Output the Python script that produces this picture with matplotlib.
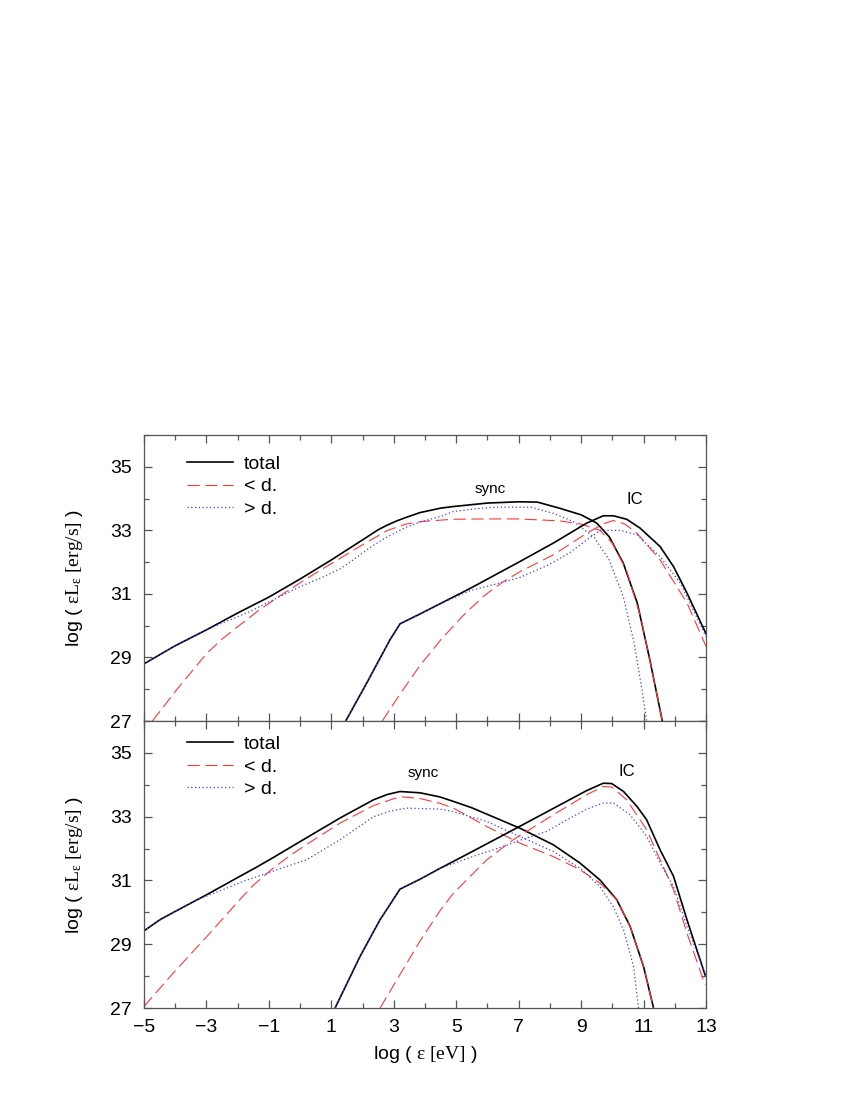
import numpy as np
import matplotlib
matplotlib.use('Agg')
import matplotlib.pyplot as plt
from matplotlib.ticker import MultipleLocator

plt.rcParams['font.family'] = ['Liberation Sans', 'DejaVu Sans']
plt.rcParams['mathtext.fontset'] = 'custom'
plt.rcParams['mathtext.rm'] = 'Liberation Serif'
plt.rcParams['mathtext.it'] = 'Liberation Serif:italic'

# ---- top panel ----
top_sync_tot_x = [-5, -4, -3, -2, -1, 0, 1, 1.3, 2, 2.5, 2.8, 3.1, 3.4, 3.84, 4.5, 4.9, 6.0, 7.0, 7.6, 8.3, 9.0, 9.5, 9.9, 10.35, 10.8, 11.2, 11.6]
top_sync_tot_y = [28.8, 29.37, 29.87, 30.4, 30.9, 31.47, 32.07, 32.26, 32.7, 33.02, 33.17, 33.3, 33.41, 33.56, 33.7, 33.75, 33.86, 33.9, 33.89, 33.7, 33.49, 33.23, 32.8, 31.97, 30.71, 28.93, 27.0]
top_sync_lo_x = [-4.73, -4, -3, -2.5, -2, -1.3, -0.6, 0, 0.6, 1.2, 2.0, 2.8, 3.4, 3.9, 4.9, 6, 7, 8.3, 9.0, 9.6, 10.0, 10.45, 10.9, 11.3, 11.6]
top_sync_lo_y = [27, 27.93, 29.12, 29.58, 29.97, 30.5, 30.97, 31.35, 31.72, 32.07, 32.55, 33.0, 33.2, 33.28, 33.35, 33.36, 33.36, 33.3, 33.2, 33.0, 32.6, 31.75, 30.3, 28.45, 27.0]
top_sync_hi_x = [-5, -4, -3.2, -2.5, -1.6, -1, 0, 0.7, 1.3, 1.7, 2.3, 2.8, 3.4, 3.9, 4.5, 4.9, 5.6, 6.3, 7.4, 8.1, 8.75, 9.4, 9.9, 10.35, 10.7, 10.95, 11.1]
top_sync_hi_y = [28.8, 29.37, 29.78, 30.08, 30.45, 30.75, 31.23, 31.52, 31.8, 32.07, 32.5, 32.8, 33.1, 33.28, 33.44, 33.59, 33.68, 33.73, 33.73, 33.54, 33.28, 32.8, 32.07, 30.92, 29.45, 27.98, 27.0]

top_ic_tot_x = [1.46, 2.13, 2.88, 3.2, 3.84, 4.48, 5.44, 7.04, 8.11, 9.18, 9.71, 10.03, 10.46, 10.89, 11.53, 11.96, 12.39, 13.0]
top_ic_tot_y = [27, 28.19, 29.56, 30.06, 30.37, 30.69, 31.17, 32.02, 32.6, 33.23, 33.46, 33.46, 33.35, 33.07, 32.49, 31.86, 31.03, 29.75]
top_ic_lo_x = [2.63, 3.2, 3.84, 4.5, 5.2, 5.9, 6.5, 7.04, 8.11, 9.18, 9.7, 10.03, 10.4, 10.79, 11.53, 12.39, 13.0]
top_ic_lo_y = [27, 27.85, 28.75, 29.55, 30.3, 30.95, 31.38, 31.7, 32.23, 32.91, 33.2, 33.31, 33.2, 32.91, 32.07, 30.72, 29.35]
top_ic_hi_x = [1.46, 2.13, 2.88, 3.2, 3.84, 4.48, 5.44, 6.3, 7.04, 7.95, 8.64, 9.18, 9.6, 10.25, 10.79, 11.53, 12.18, 13.0]
top_ic_hi_y = [27, 28.19, 29.56, 30.06, 30.37, 30.69, 31.1, 31.32, 31.52, 31.91, 32.3, 32.7, 33.0, 33.0, 32.86, 32.17, 31.34, 29.66]

# ---- bottom panel ----
bot_sync_tot_x = [-5, -4.49, -4, -3, -1.93, -1.39, -0.86, 0, 1.28, 2.35, 2.8, 3.2, 3.84, 4.48, 4.91, 5.5, 5.98, 7.04, 8.11, 8.96, 9.6, 10.14, 10.57, 11.0, 11.32]
bot_sync_tot_y = [29.42, 29.77, 30.03, 30.55, 31.13, 31.42, 31.72, 32.22, 32.96, 33.53, 33.7, 33.79, 33.75, 33.62, 33.48, 33.28, 33.08, 32.64, 32.12, 31.55, 31.02, 30.4, 29.56, 28.3, 27.0]
bot_sync_lo_x = [-5, -4.06, -2.99, -1.93, -1.5, -0.86, -0.3, 0.4, 1.28, 2.35, 3.2, 3.84, 4.48, 4.91, 5.98, 7.04, 8.11, 8.96, 9.6, 10.14, 10.57, 11.0, 11.32]
bot_sync_lo_y = [27.05, 28.1, 29.24, 30.4, 30.85, 31.39, 31.8, 32.25, 32.8, 33.35, 33.63, 33.57, 33.42, 33.27, 32.69, 32.17, 31.75, 31.34, 30.92, 30.4, 29.56, 28.3, 27.0]
bot_sync_hi_x = [-5, -4.49, -4, -3.3, -2.5, -1.83, -1, 0.21, 1.28, 2.35, 2.9, 3.41, 4.48, 4.91, 5.98, 7.04, 8.11, 8.96, 9.6, 10.03, 10.36, 10.68, 10.84]
bot_sync_hi_y = [29.42, 29.77, 30.03, 30.4, 30.7, 30.97, 31.25, 31.65, 32.28, 33.0, 33.18, 33.27, 33.24, 33.16, 32.85, 32.38, 31.91, 31.39, 30.81, 30.18, 29.45, 28.3, 27.0]

bot_ic_tot_x = [1.12, 1.92, 2.56, 3.2, 3.84, 4.48, 5.44, 7.04, 8.11, 9.18, 9.71, 9.98, 10.36, 10.79, 11.1, 11.53, 11.96, 12.39, 12.97]
bot_ic_tot_y = [27, 28.62, 29.77, 30.73, 31.04, 31.38, 31.87, 32.7, 33.26, 33.82, 34.05, 34.04, 33.79, 33.32, 32.9, 31.96, 31.13, 29.77, 28.04]
bot_ic_lo_x = [2.56, 3.2, 3.84, 4.48, 4.91, 5.98, 6.83, 8.11, 9.18, 9.71, 9.98, 10.46, 11.1, 11.53, 11.96, 12.39, 12.97]
bot_ic_lo_y = [27, 28.05, 29.1, 30.05, 30.6, 31.65, 32.28, 33.06, 33.69, 33.95, 33.93, 33.53, 32.59, 31.65, 30.71, 29.35, 27.73]
bot_ic_hi_x = [1.12, 1.92, 2.56, 3.2, 3.84, 4.48, 5.44, 6.51, 7.04, 7.9, 8.54, 9.18, 9.71, 10.03, 10.57, 11.1, 11.53, 11.96, 12.39, 12.97]
bot_ic_hi_y = [27, 28.62, 29.77, 30.73, 31.04, 31.38, 31.72, 32.07, 32.26, 32.54, 32.9, 33.24, 33.43, 33.43, 33.06, 32.38, 31.55, 30.81, 29.56, 28.1]

legend_labels = ['total', '< d.', '> d.']
x_ticks = [-5, -3, -1, 1, 3, 5, 7, 9, 11, 13]
y_ticks = [27, 29, 31, 33, 35]

fig = plt.figure(figsize=(8.5, 11), dpi=100)
ax1 = fig.add_axes([0.1694, 0.3445, 0.6612, 0.2600])
ax2 = fig.add_axes([0.1694, 0.0836, 0.6612, 0.2609])

styles = [dict(color='black', lw=1.2, ls='-'),
          dict(color='#ff3838', lw=0.8, ls=(0, (11, 5))),
          dict(color='#3c3cff', lw=0.9, ls=(0, (1, 2)))]

panels = [
    (ax1, [(top_sync_tot_x, top_sync_tot_y), (top_sync_lo_x, top_sync_lo_y), (top_sync_hi_x, top_sync_hi_y)],
          [(top_ic_tot_x, top_ic_tot_y), (top_ic_lo_x, top_ic_lo_y), (top_ic_hi_x, top_ic_hi_y)],
          (6.08, 34.3), (10.73, 33.96)),
    (ax2, [(bot_sync_tot_x, bot_sync_tot_y), (bot_sync_lo_x, bot_sync_lo_y), (bot_sync_hi_x, bot_sync_hi_y)],
          [(bot_ic_tot_x, bot_ic_tot_y), (bot_ic_lo_x, bot_ic_lo_y), (bot_ic_hi_x, bot_ic_hi_y)],
          (3.95, 34.37), (10.46, 34.42)),
]

ylab = r'log ( $\mathrm{\varepsilon L_{\varepsilon}\ [erg/s]}$ )'

for ax, sync, ic, sync_pos, ic_pos in panels:
    for (x, y), st, lab in zip(sync, styles, legend_labels):
        ax.plot(x, y, label=lab, **st)
    for (x, y), st in zip(ic, styles):
        ax.plot(x, y, **st)
    ax.text(sync_pos[0], sync_pos[1], 'sync', fontsize=11, ha='center', va='center')
    ax.text(ic_pos[0], ic_pos[1], 'IC', fontsize=12, ha='center', va='center')
    ax.set_xlim(-5, 13)
    ax.set_ylim(27, 36)
    ax.set_xticks(x_ticks)
    ax.set_yticks(y_ticks)
    ax.xaxis.set_minor_locator(MultipleLocator(1))
    ax.yaxis.set_minor_locator(MultipleLocator(1))
    ax.tick_params(which='both', direction='in', top=True, right=True, color='#555555', width=0.9)
    ax.tick_params(which='major', length=6, labelsize=14)
    ax.tick_params(which='minor', length=3.5)
    ax.tick_params(axis='y', pad=9)
    ax.tick_params(axis='x', pad=8)
    for sp in ax.spines.values():
        sp.set_color('#555555')
        sp.set_linewidth(0.9)
    ax.set_ylabel(ylab, fontsize=14)
    ax.yaxis.set_label_coords(-0.105, 0.5)

leg1 = ax1.legend(loc='upper left', bbox_to_anchor=(0.045, 0.99), frameon=False, fontsize=14,
                  handlelength=2.4, handletextpad=0.55, labelspacing=0.25)
leg2 = ax2.legend(loc='upper left', bbox_to_anchor=(0.045, 1.01), frameon=False, fontsize=14,
                  handlelength=2.4, handletextpad=0.55, labelspacing=0.25)

ax1.tick_params(axis='x', labelbottom=False)
ax2.set_xlabel(r'log ( $\mathrm{\varepsilon\ [eV]}$ )', fontsize=14, labelpad=6)

fig.savefig('out.png', dpi=100)
